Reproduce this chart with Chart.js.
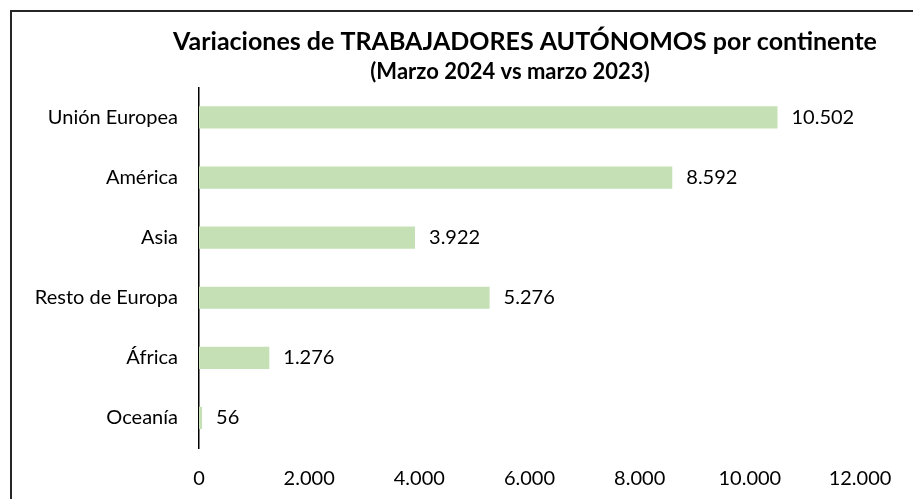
<!DOCTYPE html>
<html>
<head>
<meta charset="utf-8">
<script src="https://cdn.jsdelivr.net/npm/chart.js@4.4.1/dist/chart.umd.min.js"></script>
<style>
  html, body { margin: 0; padding: 0; background: #fff; }
  #wrap { position: relative; width: 913px; height: 499px; overflow: hidden; }
  #frame { position: absolute; left: 10px; top: 10px; width: 920px; height: 520px; border: 2px solid #262626; box-sizing: border-box; }
  canvas { position: absolute; left: 0; top: 0; }
</style>
</head>
<body>
<div id="wrap">
  <div id="frame"></div>
  <canvas id="myChart" width="913" height="499"></canvas>
</div>
<script>
var continents = ['Unión Europea', 'América', 'Asia', 'Resto de Europa', 'África', 'Oceanía'];
var variations = [10502, 8592, 3922, 5276, 1276, 56];
var tickValues = [0, 2000, 4000, 6000, 8000, 10000, 12000];

var FONT = "Lato";
var titleText = 'Variaciones de TRABAJADORES AUTÓNOMOS por continente';
var subtitleText = '(Marzo 2024 vs marzo 2023)';

function fmt(v) {
  return String(v).replace(/\B(?=(\d{3})+(?!\d))/g, '.');
}

// labels at the end of each bar
var barLabels = {
  id: 'barLabels',
  afterDatasetsDraw: function(chart) {
    var ctx = chart.ctx;
    var meta = chart.getDatasetMeta(0);
    ctx.save();
    ctx.fillStyle = '#000';
    ctx.font = '20px ' + FONT;
    ctx.textAlign = 'left';
    ctx.textBaseline = 'middle';
    meta.data.forEach(function(bar, i) {
      ctx.fillText(fmt(variations[i]), bar.x + 14, bar.y);
    });
    ctx.restore();
  }
};

// the titles sit a bit right of the canvas centre
var shiftTitles = {
  id: 'shiftTitles',
  afterLayout: function(chart) {
    chart.boxes.forEach(function(box) {
      if (!box.options) return;
      if (box.options.text === titleText) { box.left = 137; box.right = 913; }
      if (box.options.text === subtitleText) { box.left = 107; box.right = 913; }
    });
  }
};

var ctx = document.getElementById('myChart').getContext('2d');
var barChart = new Chart(ctx, {
  type: 'bar',
  data: {
    labels: continents,
    datasets: [{
      data: variations,
      backgroundColor: '#c5e0b4',
      barPercentage: 0.37,
      categoryPercentage: 1
    }]
  },
  options: {
    indexAxis: 'y',
    responsive: false,
    animation: false,
    layout: { padding: { left: 0, right: 53, top: 0, bottom: 0 } },
    plugins: {
      legend: { display: false },
      tooltip: { enabled: false },
      title: {
        display: true,
        text: titleText,
        color: '#000',
        font: { family: FONT, size: 25, weight: 'bold' },
        padding: { top: 27, bottom: 0 }
      },
      subtitle: {
        display: true,
        text: subtitleText,
        color: '#000',
        font: { family: FONT, size: 22, weight: 'bold' },
        padding: { top: 2, bottom: 2 }
      }
    },
    scales: {
      x: {
        type: 'linear',
        min: 0,
        max: 12000,
        grid: { display: false, drawTicks: false },
        border: { display: false },
        afterBuildTicks: function(scale) {
          scale.ticks = tickValues.map(function(v) { return { value: v }; });
        },
        afterFit: function(scale) { scale.height = 51; },
        ticks: {
          color: '#000',
          padding: 19,
          maxRotation: 0,
          font: { family: FONT, size: 20 },
          callback: function(v) { return fmt(v); }
        }
      },
      y: {
        grid: { display: false, drawTicks: false },
        border: { display: true, color: '#000', width: 1.5 },
        afterFit: function(scale) { scale.width = 199; },
        ticks: {
          color: '#000',
          padding: 21,
          font: { family: FONT, size: 20 }
        }
      }
    }
  },
  plugins: [barLabels, shiftTitles]
});
</script>
</body>
</html>
